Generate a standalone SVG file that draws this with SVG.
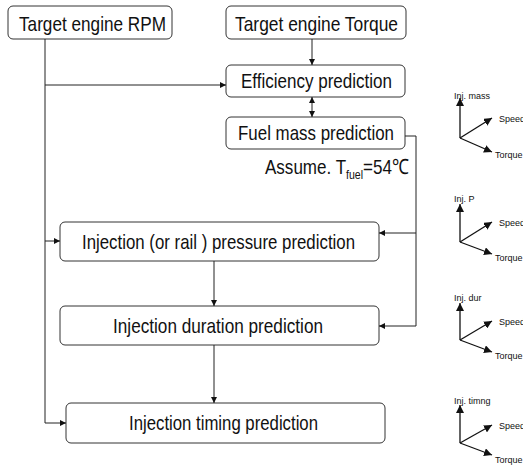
<svg xmlns="http://www.w3.org/2000/svg" width="523" height="465" viewBox="0 0 523 465">
<defs>
<marker id="ah" viewBox="0 0 10 10" refX="10" refY="5" markerWidth="6" markerHeight="6" markerUnits="userSpaceOnUse" orient="auto-start-reverse">
<path d="M0,0 L10,5 L0,10 z" fill="#111"/>
</marker>
<marker id="ah2" viewBox="0 0 10 10" refX="10" refY="5" markerWidth="8" markerHeight="8" markerUnits="userSpaceOnUse" orient="auto">
<path d="M0,0 L10,5 L0,10 z" fill="#111"/>
</marker>
</defs>
<style>
.box{fill:#fff;stroke:#333;stroke-width:1}
.t{font-family:"Liberation Sans",Arial,sans-serif;font-size:21px;fill:#111}
.c{fill:none;stroke:#222;stroke-width:1}
.ax{fill:none;stroke:#111;stroke-width:1.3}
.s{font-family:"Liberation Sans",Arial,sans-serif;font-size:9px;fill:#111}
</style>
<rect width="523" height="465" fill="#fff"/>
<g id="rpm"><rect class="box" x="8" y="6" width="164" height="33" rx="5"/><text class="t" x="19" y="31" textLength="147" lengthAdjust="spacingAndGlyphs">Target engine RPM</text></g>
<g id="torque"><rect class="box" x="226" y="6" width="180" height="33" rx="5"/><text class="t" x="235" y="31" textLength="163" lengthAdjust="spacingAndGlyphs">Target engine Torque</text></g>
<g id="eff"><rect class="box" x="226" y="65" width="179" height="32" rx="5"/><text class="t" x="241" y="88" textLength="151" lengthAdjust="spacingAndGlyphs">Efficiency prediction</text></g>
<g id="fuel"><rect class="box" x="226" y="117" width="179" height="32" rx="5"/><text class="t" x="238" y="140" textLength="156" lengthAdjust="spacingAndGlyphs">Fuel mass prediction</text></g>
<g id="assume"><text class="t" x="265" y="174" textLength="144" lengthAdjust="spacingAndGlyphs">Assume. T<tspan dy="5" font-size="13">fuel</tspan><tspan dy="-5">=54℃</tspan></text></g>
<g id="pressure"><rect class="box" x="60" y="222" width="319" height="39" rx="5"/><text class="t" x="82" y="249" textLength="273" lengthAdjust="spacingAndGlyphs">Injection (or rail ) pressure prediction</text></g>
<g id="duration"><rect class="box" x="60" y="306" width="319" height="39" rx="5"/><text class="t" x="113" y="333" textLength="210" lengthAdjust="spacingAndGlyphs">Injection duration  prediction</text></g>
<g id="timing"><rect class="box" x="66" y="403" width="319" height="40" rx="5"/><text class="t" x="129" y="430" textLength="189" lengthAdjust="spacingAndGlyphs">Injection timing prediction</text></g>
<g id="connectors">
<path class="c" d="M45,39 V423 H66" marker-end="url(#ah)"/>
<path class="c" d="M45,85 H226" marker-end="url(#ah)"/>
<path class="c" d="M45,241 H60" marker-end="url(#ah)"/>
<path class="c" d="M312,39 V65" marker-end="url(#ah)"/>
<path class="c" d="M312,97 V117" marker-start="url(#ah)" marker-end="url(#ah)"/>
<path class="c" d="M405,136 H416 V326 H379" marker-end="url(#ah)"/>
<path class="c" d="M416,233 H379" marker-end="url(#ah)"/>
<path class="c" d="M214,261 V306" marker-end="url(#ah)"/>
<path class="c" d="M214,345 V403" marker-end="url(#ah)"/>
</g>
<g id="axes1">
<path class="ax" d="M460,138 V98" marker-end="url(#ah2)"/>
<path class="ax" d="M460,138 L492,118" marker-end="url(#ah2)"/>
<path class="ax" d="M460,138 L492,152" marker-end="url(#ah2)"/>
<text class="s" x="454" y="99">Inj. mass</text>
<text class="s" x="499" y="122">Speed</text>
<text class="s" x="495" y="158">Torque</text>
</g>
<g id="axes2">
<path class="ax" d="M460,242 V204" marker-end="url(#ah2)"/>
<path class="ax" d="M460,242 L492,222" marker-end="url(#ah2)"/>
<path class="ax" d="M460,242 L492,254" marker-end="url(#ah2)"/>
<text class="s" x="454" y="202">Inj. P</text>
<text class="s" x="499" y="226">Speed</text>
<text class="s" x="495" y="261">Torque</text>
</g>
<g id="axes3">
<path class="ax" d="M460,340 V303" marker-end="url(#ah2)"/>
<path class="ax" d="M460,340 L492,321" marker-end="url(#ah2)"/>
<path class="ax" d="M460,340 L492,352" marker-end="url(#ah2)"/>
<text class="s" x="454" y="301">Inj. dur</text>
<text class="s" x="499" y="325">Speed</text>
<text class="s" x="495" y="359">Torque</text>
</g>
<g id="axes4">
<path class="ax" d="M460,443 V405" marker-end="url(#ah2)"/>
<path class="ax" d="M460,443 L492,425" marker-end="url(#ah2)"/>
<path class="ax" d="M460,443 L492,455" marker-end="url(#ah2)"/>
<text class="s" x="454" y="404">Inj. timng</text>
<text class="s" x="499" y="429">Speed</text>
<text class="s" x="495" y="463">Torque</text>
</g>
</svg>
